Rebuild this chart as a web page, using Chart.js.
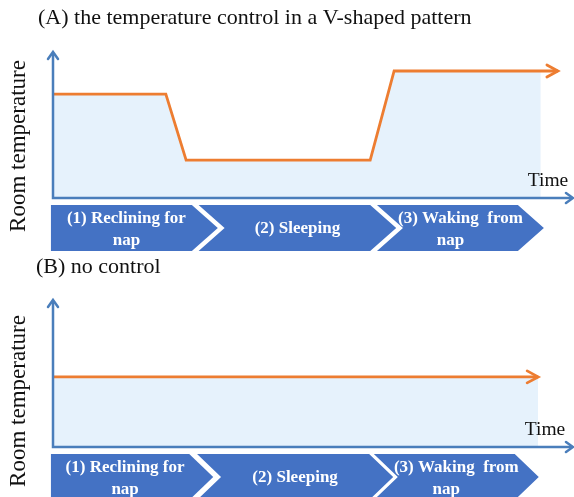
<!DOCTYPE html>
<html>
<head>
<meta charset="utf-8">
<script src="https://cdn.jsdelivr.net/npm/chart.js@4"></script>
<style>
  html, body { margin: 0; padding: 0; background: #ffffff; }
  body { width: 574px; height: 497px; position: relative; overflow: hidden; }
  .wrap { position: absolute; left: 0; width: 574px; }
  #wa { top: 0; height: 255px; }
  #wb { top: 255px; height: 242px; }
</style>
</head>
<body>
<div class="wrap" id="wa"><canvas id="ca"></canvas></div>
<div class="wrap" id="wb"><canvas id="cb"></canvas></div>
<script>
// ---- data (time in arbitrary units 0..100, temperature in relative units 0..100) ----
const titleA = "(A) the temperature control in a V-shaped pattern";
const titleB = "(B) no control";
const yAxisLabel = "Room temperature";
const xAxisLabel = "Time";

const timeA = [0, 21.7, 25.6, 61, 65.6, 97.1];
const tempA = [71.2, 71.2, 26, 26, 87, 87];
const fillEndA = 93.8;

const timeB = [0, 93.3];
const tempB = [47.7, 47.7];
const fillEndB = 93.3;

const phaseLabels = [["(1) Reclining for", "nap"], ["(2) Sleeping"], ["(3) Waking  from", "nap"]];
const phaseStartA = [-0.4, 28, 62.3];
const phaseEndA = [26.7, 61, 89.4];
const phaseStartB = [-0.4, 27.7, 61.7];
const phaseEndB = [26.2, 60.8, 88.8];

const ORANGE = "#ED7D31";
const AXIS_BLUE = "#4A7EBB";
const FILL_BLUE = "#E6F2FC";
const CHEV_BLUE = "#4472C4";

function pts(t, v, lastX) {
  return t.map((x, i) => ({ x: (lastX !== undefined && i === t.length - 1) ? lastX : x, y: v[i] }));
}

function drawOpenArrow(ctx, x, y, angle, len, half, color, width) {
  ctx.save();
  ctx.translate(x, y);
  ctx.rotate(angle);
  ctx.strokeStyle = color;
  ctx.lineWidth = width;
  ctx.lineCap = "round";
  ctx.lineJoin = "miter";
  ctx.beginPath();
  ctx.moveTo(-len, -half);
  ctx.lineTo(0, 0);
  ctx.lineTo(-len, half);
  ctx.stroke();
  ctx.restore();
}

function makePlugin(cfg) {
  return {
    id: "decor",
    afterDatasetsDraw(chart) {
      const ctx = chart.ctx;
      const a = chart.chartArea;
      const xs = chart.scales.x, ys = chart.scales.y;
      ctx.save();
      // axes
      ctx.strokeStyle = AXIS_BLUE;
      ctx.lineWidth = 2.5;
      ctx.beginPath();
      ctx.moveTo(a.left, a.top + 1);
      ctx.lineTo(a.left, a.bottom);
      ctx.lineTo(a.right - 1, a.bottom);
      ctx.stroke();
      drawOpenArrow(ctx, a.left, a.top, -Math.PI / 2, 7, 5, AXIS_BLUE, 2.5);
      drawOpenArrow(ctx, a.right, a.bottom, 0, 7, 5, AXIS_BLUE, 2.5);

      // orange arrow head at end of line
      const line = cfg.lineData;
      const last = line[line.length - 1];
      drawOpenArrow(ctx, xs.getPixelForValue(last.x), ys.getPixelForValue(last.y), 0, 11, 6, ORANGE, 2.8);

      // chevrons
      const top = a.bottom + cfg.chevGap;
      const h = cfg.chevH;
      const mid = top + h / 2;
      const d = cfg.depth;
      for (let i = 0; i < cfg.starts.length; i++) {
        const s = xs.getPixelForValue(cfg.starts[i]);
        const e = xs.getPixelForValue(cfg.ends[i]);
        ctx.fillStyle = CHEV_BLUE;
        ctx.beginPath();
        ctx.moveTo(s, top);
        ctx.lineTo(e, top);
        ctx.lineTo(e + d, mid);
        ctx.lineTo(e, top + h);
        ctx.lineTo(s, top + h);
        if (i > 0) ctx.lineTo(s + d, mid);
        ctx.closePath();
        ctx.fill();
        const cx = (s + e) / 2 + (i > 0 ? d / 2 : 5);
        ctx.fillStyle = "#ffffff";
        ctx.font = "bold 17px 'Liberation Serif', 'Times New Roman', serif";
        ctx.textAlign = "center";
        ctx.textBaseline = "middle";
        const lines = phaseLabels[i];
        if (lines.length === 1) {
          ctx.fillText(lines[0], cx, mid + 1);
        } else {
          ctx.fillText(lines[0], cx, top + 14);
          ctx.fillText(lines[1], cx - (i === 2 ? 10 : 0), top + 36);
        }
      }

      // texts
      ctx.fillStyle = "#111111";
      ctx.font = "22px 'Liberation Serif', 'Times New Roman', serif";
      ctx.textAlign = "left";
      ctx.textBaseline = "middle";
      ctx.fillText(cfg.title, cfg.titleX, cfg.titleY);

      ctx.font = "19.5px 'Liberation Serif', 'Times New Roman', serif";
      ctx.textAlign = "center";
      ctx.fillText(xAxisLabel, cfg.timeX, cfg.timeY);

      ctx.save();
      ctx.translate(19, cfg.ylabY);
      ctx.rotate(-Math.PI / 2);
      ctx.font = "23px 'Liberation Serif', 'Times New Roman', serif";
      ctx.textAlign = "center";
      ctx.textBaseline = "middle";
      ctx.fillText(yAxisLabel, 0, 0);
      ctx.restore();

      ctx.restore();
    }
  };
}

function makeChart(id, cfg) {
  const lineData = pts(cfg.time, cfg.temp);
  const fillData = pts(cfg.time, cfg.temp, cfg.fillEnd);
  cfg.lineData = lineData;
  return new Chart(document.getElementById(id), {
    type: "line",
    data: {
      datasets: [
        {
          data: lineData,
          borderColor: ORANGE,
          borderWidth: 2.8,
          pointRadius: 0,
          fill: false,
          tension: 0,
          borderJoinStyle: "miter",
          order: 0
        },
        {
          data: fillData,
          borderColor: "rgba(0,0,0,0)",
          borderWidth: 0,
          backgroundColor: FILL_BLUE,
          pointRadius: 0,
          fill: "origin",
          tension: 0,
          order: 1
        }
      ]
    },
    options: {
      responsive: true,
      maintainAspectRatio: false,
      animation: false,
      events: [],
      layout: { padding: cfg.padding },
      plugins: { legend: { display: false }, tooltip: { enabled: false }, title: { display: false } },
      scales: {
        x: { type: "linear", min: 0, max: 100, display: false },
        y: { type: "linear", min: 0, max: 100, display: false }
      }
    },
    plugins: [makePlugin(cfg)]
  });
}

makeChart("ca", {
  time: timeA, temp: tempA, fillEnd: fillEndA,
  starts: phaseStartA, ends: phaseEndA,
  padding: { left: 53, right: 1, top: 52, bottom: 57 },
  chevGap: 7, chevH: 46, depth: 26,
  title: titleA, titleX: 38, titleY: 18,
  timeX: 548, timeY: 181, ylabY: 146
});

makeChart("cb", {
  time: timeB, temp: tempB, fillEnd: fillEndB,
  starts: phaseStartB, ends: phaseEndB,
  padding: { left: 53, right: 1, top: 45, bottom: 50 },
  chevGap: 7, chevH: 46, depth: 24,
  title: titleB, titleX: 36, titleY: 12,
  timeX: 545, timeY: 175, ylabY: 146
});
</script>
</body>
</html>
